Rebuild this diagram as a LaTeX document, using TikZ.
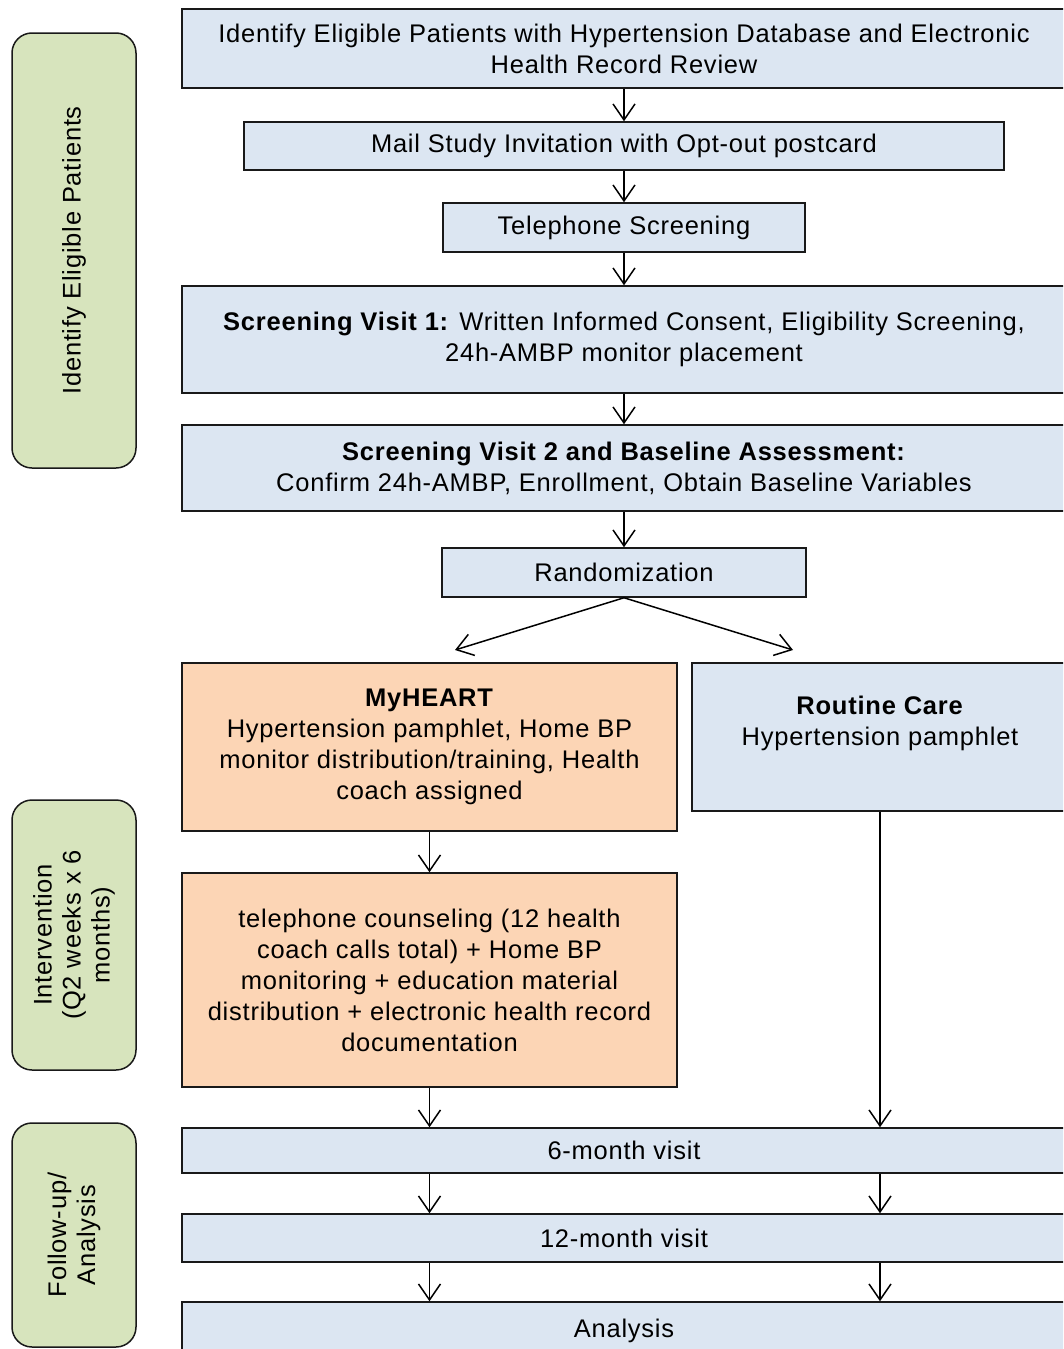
\documentclass[tikz,border=0pt]{standalone}
\usepackage{fontspec}
\setmainfont[LetterSpace=3]{Liberation Sans}
\usetikzlibrary{arrows.meta,calc,positioning}
\definecolor{boxblue}{HTML}{DCE6F2}
\definecolor{boxorange}{HTML}{FCD5B5}
\definecolor{phasegreen}{HTML}{D7E4BD}
\tikzset{%
	bluebox/.style   = {draw=black!90, line width=1.5pt, fill=boxblue, rectangle, inner sep=0pt, align=center, font=\fontsize{25.5}{31}\selectfont},
	orangebox/.style = {bluebox, fill=boxorange},
	phase/.style     = {draw=black!90, line width=1.5pt, fill=phasegreen, rectangle, rounded corners=20pt, minimum height=124pt, inner sep=0pt, rotate=90, align=center, font=\fontsize{25.5}{29}\selectfont},
	arrow/.style     = {line width=1.5pt, -{Straight Barb[length=16pt,width=22pt]}},
}
\begin{document}
\begin{tikzpicture}[x=1pt,y=-1pt]
	\useasboundingbox (0,0) rectangle (1063,1349);
	\clip (0,0) rectangle (1063,1349);
	
	% phases on the left
	\node[phase, minimum width=435pt] (phaseid) at (74,250.5) {Identify Eligible Patients};
	\node[phase, minimum width=270pt] (phaseint) at (74,935) {Intervention\\(Q2 weeks x 6\\months)};
	\node[phase, minimum width=224pt] (phasefu) at (74,1235) {Follow-up/\\Analysis};
	
	% main column
	\node[bluebox, minimum width=884pt, minimum height=79pt] (ident) at (624,48.5) {Identify Eligible Patients with Hypertension Database and Electronic\\Health Record Review};
	\node[bluebox, minimum width=760pt, minimum height=48pt] (mail) at (624,146) {Mail Study Invitation with Opt-out postcard};
	\node[bluebox, minimum width=362pt, minimum height=49pt] (phone) at (624,227.5) {Telephone Screening};
	\node[bluebox, minimum width=884pt, minimum height=107pt] (visit1) at (624,339.5) {\textbf{Screening Visit 1:} Written Informed Consent, Eligibility Screening,\\24h-AMBP monitor placement};
	\node[bluebox, minimum width=884pt, minimum height=86pt] (visit2) at (624,468) {\textbf{Screening Visit 2 and Baseline Assessment:}\\Confirm 24h-AMBP, Enrollment, Obtain Baseline Variables};
	\node[bluebox, minimum width=364pt, minimum height=49pt] (random) at (624,572.5) {Randomization};
	
	% two arms
	\node[orangebox, minimum width=495pt, minimum height=168pt] (myheart) at (429.5,747) {\textbf{MyHEART}\\Hypertension pamphlet, Home BP\\monitor distribution/training, Health\\coach assigned};
	\node[bluebox, minimum width=376pt, minimum height=148pt] (routine) at (880,737) {};
	\node[font=\fontsize{25.5}{31}\selectfont, align=center] (routinetext) at (880,723.5) {\textbf{Routine Care}\\Hypertension pamphlet};
	\node[orangebox, minimum width=495pt, minimum height=214pt] (counsel) at (429.5,980) {telephone counseling (12 health\\coach calls total) + Home BP\\monitoring + education material\\distribution + electronic health record\\documentation};
	
	% follow-up
	\node[bluebox, minimum width=884pt, minimum height=45pt] (sixmonth) at (624,1150.5) {6-month visit};
	\node[bluebox, minimum width=884pt, minimum height=48pt] (twelvemonth) at (624,1238) {12-month visit};
	\node[bluebox, minimum width=884pt, minimum height=58pt] (analysis) at (624,1331) {Analysis};
	
	\coordinate (leftend) at (455,650);
	\coordinate (rightend) at (793,650);
	
	\draw[arrow] (ident) -- (mail);
	\draw[arrow] (mail) -- (phone);
	\draw[arrow] (phone) -- (visit1);
	\draw[arrow] (visit1) -- (visit2);
	\draw[arrow] (visit2) -- (random);
	\draw[arrow] (random.south) -- (leftend);
	\draw[arrow] (random.south) -- (rightend);
	\draw[arrow] (myheart) -- (counsel);
	\draw[arrow] (counsel.south) -- (sixmonth.north -| counsel.south);
	\draw[arrow] (routine.south) -- (sixmonth.north -| routine.south);
	\foreach \arm in {counsel,routine}{
		\draw[arrow] (sixmonth.south -| \arm.south) -- (twelvemonth.north -| \arm.south);
		\draw[arrow] (twelvemonth.south -| \arm.south) -- (analysis.north -| \arm.south);
	}
\end{tikzpicture}
\end{document}
